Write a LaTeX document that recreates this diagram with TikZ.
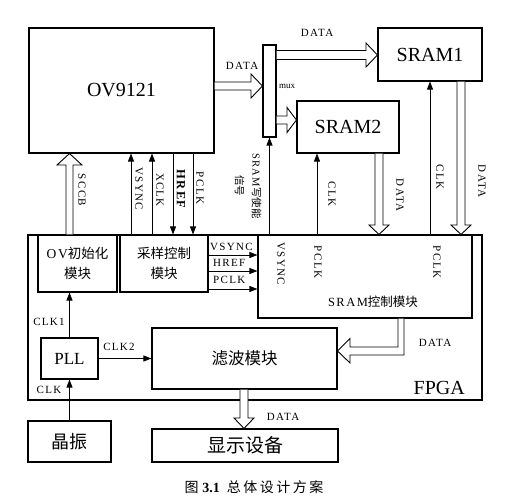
\documentclass[tikz,border=0pt]{standalone}
\usepackage{fontspec}
\setmainfont{Liberation Serif}
\newfontfamily\cjk{Noto Sans CJK SC}
\newfontfamily\cjkw[LetterSpace=18]{Noto Sans CJK SC}
\newfontfamily\lbl[LetterSpace=12]{Liberation Serif}
\usetikzlibrary{arrows.meta,calc}
\begin{document}
\begin{tikzpicture}[x=1pt,y=-1pt,
  box/.style={draw,line width=1.1pt,inner sep=0pt},
  lab/.style={font=\fontsize{11}{12}\lbl,inner sep=0pt},
  vlab/.style={lab,rotate=-90},
  arr/.style={line width=0.8pt,-{Triangle[length=8pt,width=6pt]}},
  hollow/.style={draw,line width=0.9pt,fill=white,line join=miter}]
\useasboundingbox (0,0) rectangle (520,500);

% FPGA outer
\node[box,minimum width=454pt,minimum height=165pt] (fpga) at (255,317.5) {};
\node[font=\fontsize{20}{22}\selectfont,anchor=south east,inner sep=0pt] (fpgalab) at (465,395) {FPGA};

% top boxes
\node[box,minimum width=185pt,minimum height=125pt,font=\fontsize{20}{22}\selectfont] (ov) at (121.5,90.5) {OV9121};
\node[box,minimum width=13pt,minimum height=92pt] (mux) at (269.5,91) {};
\node[font=\fontsize{9}{10}\selectfont,inner sep=0pt] (muxlab) at (287,86) {mux};
\node[box,minimum width=104pt,minimum height=53pt,font=\fontsize{20}{22}\selectfont] (sram1) at (430,54.5) {SRAM1};
\node[box,minimum width=102pt,minimum height=52pt,font=\fontsize{20}{22}\selectfont] (sram2) at (348,127) {SRAM2};

% inner FPGA boxes
\node[box,minimum width=79pt,minimum height=57pt,align=center,font=\fontsize{13.5}{20}\cjk] (ovinit) at (77.5,263.5)
  {{\lbl OV}初始化\\模块};
\node[box,minimum width=88pt,minimum height=57pt,align=center,font=\fontsize{13.5}{20}\cjk] (samp) at (164,263.5)
  {采样控制\\模块};
\node[box,minimum width=214pt,minimum height=83pt] (sctrl) at (365,276.5) {};
\node[inner sep=0pt,font=\fontsize{12.5}{14}\cjk] (sctrllab) at (373,302) {{\lbl SRAM}控制模块};
\node[box,minimum width=57pt,minimum height=41pt,font=\fontsize{17}{19}\selectfont] (pll) at (69.5,358.5) {PLL};
\node[box,minimum width=185pt,minimum height=61pt,font=\fontsize{16.5}{18}\cjk] (filt) at (244.5,358.5) {滤波模块};

% bottom boxes
\node[box,minimum width=83pt,minimum height=41pt,font=\fontsize{18}{20}\cjk] (xtal) at (69.5,441.5) {晶振};
\node[box,minimum width=186pt,minimum height=33pt,font=\fontsize{19}{21}\cjk] (disp) at (245,445.5) {显示设备};

% caption
\node[inner sep=0pt,font=\fontsize{14}{16}\selectfont] (cap) at (254,487) {{\cjk 图}\;\textbf{3.1}\enspace{\cjkw 总体设计方案}};

% ---- hollow arrows ----
% OV9121 -> mux
\draw[hollow] (ov.east |- 0,82) -- (251,82) -- (251,74) -- (mux.west |- 0,86) -- (251,98) -- (251,90) -- (ov.east |- 0,90);
% mux -> SRAM1
\draw[hollow] (mux.east |- 0,50.5) -- (366,50.5) -- (366,43) -- (sram1.west |- 0,55) -- (366,67) -- (366,59.5) -- (mux.east |- 0,59.5);
% mux -> SRAM2
\draw[hollow] (mux.east |- 0,116) -- (287,116) -- (287,107.5) -- (sram2.west |- 0,120) -- (287,132.5) -- (287,124) -- (mux.east |- 0,124);
% SCCB up
\draw[hollow] (ovinit.north -| 66,0) -- (66,165) -- (57,165) -- (ov.south -| 69.5,0) -- (82,165) -- (73,165) -- (ovinit.north -| 73,0);
% SRAM2 DATA down
\draw[hollow] (sram2.south -| 375,0) -- (375,225) -- (369,225) -- (sctrl.north -| 379,0) -- (389,225) -- (383,225) -- (sram2.south -| 383,0);
% SRAM1 DATA down
\draw[hollow] (sram1.south -| 457,0) -- (457,225) -- (451,225) -- (sctrl.north -| 461,0) -- (471,225) -- (465,225) -- (sram1.south -| 465,0);
% SRAM ctrl -> filter
\draw[hollow] (sctrl.south -| 398,0) -- (398,347) -- (350,347) -- (350,338.5) -- (filt.east |- 0,351) -- (350,363) -- (350,355) -- (404,355) -- (sctrl.south -| 404,0);
% filter -> display
\draw[hollow] (filt.south -| 240,0) -- (240,418) -- (234,418) -- (disp.north -| 244,0) -- (254,418) -- (248,418) -- (filt.south -| 248,0);

% ---- thin arrows ----
\draw[arr] (samp.north -| 131,0) -- (ov.south -| 131,0);
\draw[arr] (samp.north -| 152,0) -- (ov.south -| 152,0);
\draw[arr] (ov.south -| 173,0) -- (samp.north -| 173,0);
\draw[arr] (ov.south -| 193,0) -- (samp.north -| 193,0);
\draw[arr] (mux.south |- sctrl.north) -- (mux.south);
\draw[arr] (sctrl.north -| 317,0) -- (sram2.south -| 317,0);
\draw[arr] (sram1.south |- sctrl.north) -- (sram1.south);
\draw[arr] (samp.east |- 0,255) -- (sctrl.west |- 0,255);
\draw[arr] (samp.east |- 0,271) -- (sctrl.west |- 0,271);
\draw[arr] (samp.east |- 0,289) -- (sctrl.west |- 0,289);
\draw[arr] (pll.north) -- (ovinit.south -| pll.north);
\draw[arr] (pll.east) -- (filt.west |- pll.east);
\draw[arr] (xtal.north) -- (pll.south);

% ---- labels ----
\node[lab] (l1) at (242,66) {DATA};
\node[lab] (l2) at (317,33) {DATA};
\node[vlab] (l3) at (82,190) {SCCB};
\node[vlab] (l4) at (139,189) {VSYNC};
\node[vlab] (l5) at (160,190) {XCLK};
\node[vlab,font=\fontsize{12.5}{13}\lbl\bfseries] (l6) at (181,189) {HREF};
\node[vlab] (l7) at (200,188) {PCLK};
\node[rotate=-90,inner sep=0pt,align=center,font=\fontsize{10.5}{17}\cjk] (l8) at (248,186) {{\lbl SRAM}写使能\\信号};
\node[vlab] (l9) at (332,194) {CLK};
\node[vlab] (l10) at (400,195) {DATA};
\node[vlab] (l11) at (440,177) {CLK};
\node[vlab] (l12) at (482,181) {DATA};
\node[lab,anchor=west] (l13) at (210,247) {VSYNC};
\node[lab,anchor=west] (l14) at (213,263) {HREF};
\node[lab,anchor=west] (l15) at (213,280) {PCLK};
\node[vlab] (l16) at (281,264) {VSYNC};
\node[vlab] (l17) at (318,262) {PCLK};
\node[vlab] (l18) at (437,262) {PCLK};
\node[lab] (l19) at (49,322) {CLK1};
\node[lab] (l20) at (119,347) {CLK2};
\node[lab] (l21) at (49,390) {CLK};
\node[lab] (l22) at (435,343) {DATA};
\node[lab] (l23) at (283,417) {DATA};
\end{tikzpicture}
\end{document}
